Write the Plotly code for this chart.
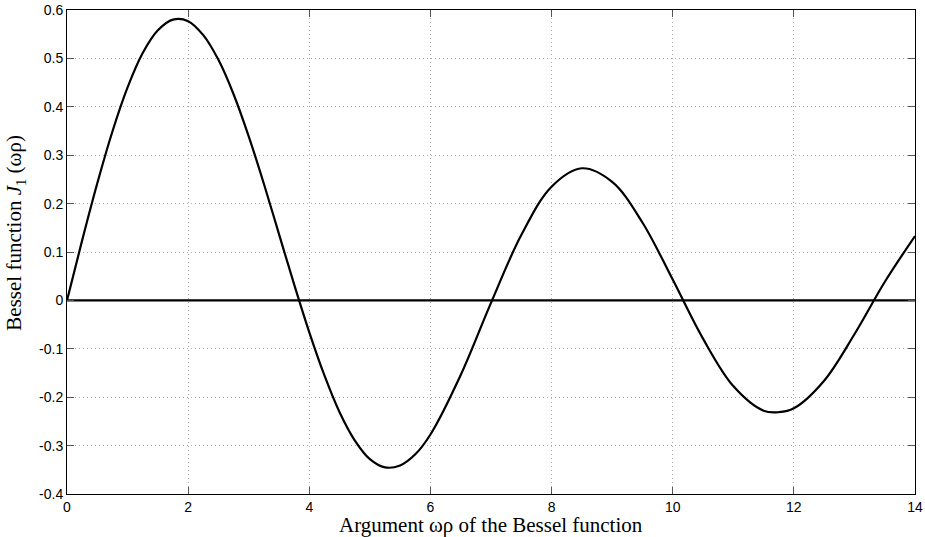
import plotly.graph_objects as go

# Values (J1 curve)
x_vals = [0, 0.25, 0.5, 0.75, 1.0, 1.25, 1.5, 1.75, 2.0, 2.25, 2.5, 2.75, 3.0, 3.25, 3.5, 3.75, 4.0, 4.25,
          4.5, 4.75, 5.0, 5.25, 5.5, 5.75, 6.0, 6.5, 7.0, 7.5, 8.0, 8.5, 9.0, 9.5, 10.0, 10.5, 11.0,
          11.5, 11.75, 12.0, 12.5, 13.0, 13.5, 14.0]
y_vals = [0, 0.124, 0.242, 0.349, 0.440, 0.511, 0.558, 0.580, 0.577, 0.548, 0.497, 0.426, 0.339, 0.241,
          0.137, 0.033, -0.066, -0.155, -0.231, -0.289, -0.328, -0.345, -0.341, -0.318, -0.277, -0.154,
          -0.005, 0.135, 0.235, 0.273, 0.245, 0.161, 0.043, -0.079, -0.177, -0.228, -0.231, -0.223,
          -0.166, -0.070, 0.038, 0.133]
zero_x = [0, 14]
zero_y = [0, 0]
x_ticks = [0, 2, 4, 6, 8, 10, 12, 14]
y_ticks = [-0.4, -0.3, -0.2, -0.1, 0, 0.1, 0.2, 0.3, 0.4, 0.5, 0.6]
y_tick_text = ["-0.4", "-0.3", "-0.2", "-0.1", "0", "0.1", "0.2", "0.3", "0.4", "0.5", "0.6"]
x_title = "Argument ωρ of the Bessel function"
y_title = "Bessel function <i>J</i><sub>1</sub> (ωρ)"

fig = go.Figure()
fig.add_trace(go.Scatter(x=x_vals, y=y_vals, mode="lines",
                         line=dict(color="black", width=2.2, shape="spline", smoothing=1.0),
                         showlegend=False))
fig.add_trace(go.Scatter(x=zero_x, y=zero_y, mode="lines",
                         line=dict(color="black", width=2.2), showlegend=False))

axis_common = dict(showline=True, linecolor="black", linewidth=1, mirror="allticks",
                   ticks="inside", ticklen=7, tickcolor="#555", zeroline=False,
                   showgrid=True, gridcolor="#b0b0b0", griddash="1px,3px", gridwidth=1,
                   automargin=False,
                   tickfont=dict(family="Liberation Sans, Arial", size=14, color="black"))

fig.update_xaxes(range=[0, 14], tickvals=x_ticks, **axis_common)
fig.update_yaxes(range=[-0.4, 0.6], tickvals=y_ticks, ticktext=y_tick_text, **axis_common)

title_font = dict(family="Liberation Serif, Times New Roman", size=21, color="black")
fig.add_annotation(text=x_title, xref="paper", yref="paper", x=0.5, y=0,
                   xanchor="center", yanchor="middle", yshift=-31, showarrow=False, font=title_font)
fig.add_annotation(text=y_title, xref="paper", yref="paper", x=0, y=0.54,
                   xanchor="center", yanchor="middle", xshift=-52, textangle=-90,
                   showarrow=False, font=title_font)

fig.update_layout(width=925, height=537, margin=dict(l=67, r=10, t=10, b=43),
                  plot_bgcolor="white", paper_bgcolor="white")
fig.write_html("out.html", config={"displayModeBar": False},
               post_script="document.body.style.margin='0';")
